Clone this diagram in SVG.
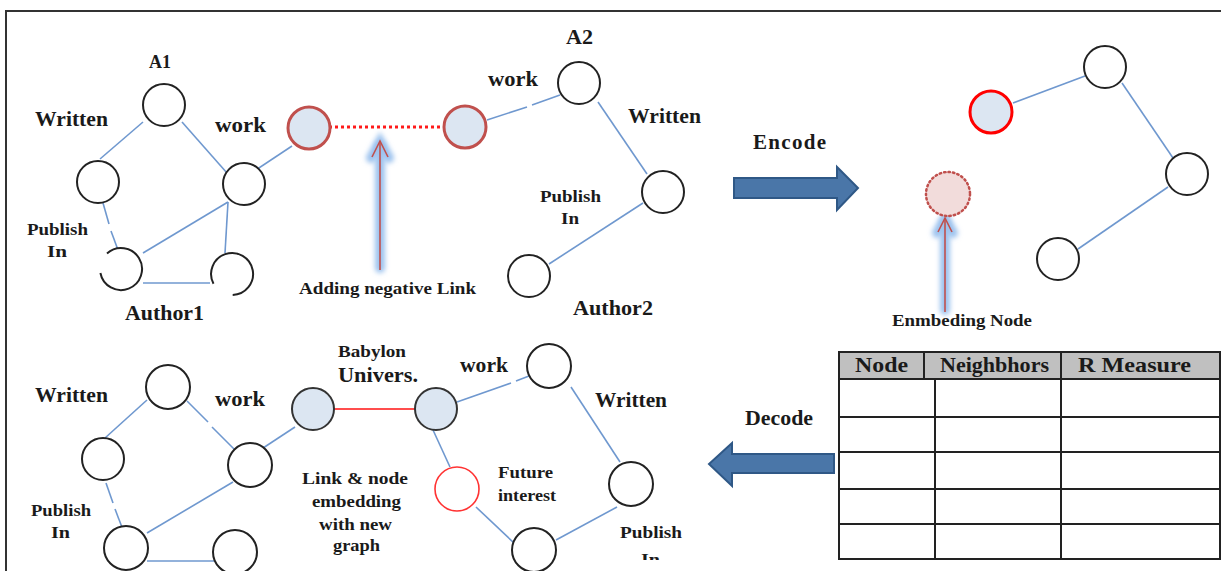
<svg xmlns="http://www.w3.org/2000/svg" width="1221" height="571" viewBox="0 0 1221 571">
  <style>
    .n { fill: #ffffff; stroke: #222222; stroke-width: 2; }
    .hl { fill: #dce6f2; stroke: #333333; stroke-width: 2; }
    .neg { fill: #dce6f2; stroke: #c0504d; stroke-width: 3; }
    .e { stroke: #6f98cf; stroke-width: 1.6; fill: none; }
    .t { font-family: "Liberation Serif", "Times New Roman", serif; font-weight: bold; fill: #1a1a1a; }
    .big { font-size: 21px; }
    .sm { font-size: 17px; }
    .cell { fill: none; stroke: #222222; stroke-width: 2; }
    .bigarrow { fill: #4a76a8; stroke: #2f5886; stroke-width: 2; }
    .glow { stroke: #9cc2ee; stroke-width: 10; fill: none; stroke-linecap: round; filter: url(#blur); }
    .pt { stroke: #c0504d; stroke-width: 1.6; fill: none; }
  </style>
  <defs>
    <filter id="blur" filterUnits="userSpaceOnUse" x="0" y="0" width="1221" height="571">
      <feGaussianBlur stdDeviation="2.5"/>
    </filter>
    <clipPath id="cut"><rect x="0" y="0" width="1221" height="560"/></clipPath>
  </defs>

  <rect x="0" y="0" width="1221" height="571" fill="#ffffff"/>
  <!-- frame -->
  <path d="M6,571 V11 H1221" fill="none" stroke="#333333" stroke-width="2"/>

  <!-- connectors -->
  <g id="connectors">
    <!-- top-left graph -->
    <line class="e" x1="143" y1="122" x2="100" y2="159"/>
    <line class="e" x1="182" y1="122" x2="227" y2="173"/>
    <line class="e" x1="103" y1="203" x2="109" y2="224"/>
    <line class="e" x1="111" y1="231" x2="118" y2="250"/>
    <line class="e" x1="228" y1="202" x2="143" y2="253"/>
    <line class="e" x1="228" y1="202" x2="225" y2="253"/>
    <line class="e" x1="143" y1="283" x2="210" y2="283"/>
    <line class="e" x1="253" y1="172" x2="292" y2="146"/>
    <!-- negative link -->
    <line x1="329" y1="127" x2="446" y2="127" stroke="#ff1a1a" stroke-width="3" stroke-dasharray="3 3"/>
    <!-- top-middle right graph -->
    <line class="e" x1="487" y1="120" x2="527" y2="107"/>
    <line class="e" x1="532" y1="105" x2="560" y2="95"/>
    <line class="e" x1="598" y1="102" x2="647" y2="174"/>
    <line class="e" x1="643" y1="203" x2="549" y2="264"/>
    <!-- encoded graph -->
    <line class="e" x1="1013" y1="103" x2="1085" y2="76"/>
    <line class="e" x1="1122" y1="83" x2="1173" y2="158"/>
    <line class="e" x1="1168" y1="187" x2="1078" y2="249"/>
    <!-- bottom-left graph -->
    <line class="e" x1="147" y1="400" x2="105" y2="438"/>
    <line class="e" x1="187" y1="401" x2="208" y2="422"/>
    <line class="e" x1="212" y1="427" x2="234" y2="449"/>
    <line class="e" x1="106" y1="483" x2="113" y2="503"/>
    <line class="e" x1="115" y1="509" x2="123" y2="530"/>
    <line class="e" x1="233" y1="482" x2="147" y2="533"/>
    <line class="e" x1="147" y1="561" x2="214" y2="561"/>
    <line class="e" x1="257" y1="452" x2="295" y2="427"/>
    <!-- bottom middle / right -->
    <line x1="334" y1="409" x2="415" y2="409" stroke="#ff4d4d" stroke-width="2"/>
    <line class="e" x1="457" y1="402" x2="511" y2="383"/>
    <line class="e" x1="516" y1="381" x2="529" y2="376"/>
    <line class="e" x1="571" y1="387" x2="620" y2="462"/>
    <line class="e" x1="433" y1="430" x2="450" y2="467"/>
    <line class="e" x1="476" y1="507" x2="514" y2="543"/>
    <line class="e" x1="556" y1="540" x2="617" y2="507"/>
  </g>

  <!-- pointer arrows with glow -->
  <g id="pointer-negative">
    <line class="glow" x1="380" y1="146" x2="380" y2="268"/>
    <path class="glow" d="M371,158 L380,142 L389,158"/>
    <line class="pt" x1="380" y1="141" x2="380" y2="270"/>
    <path class="pt" d="M372,157 L380,141 L388,157"/>
  </g>
  <g id="pointer-embedding">
    <line class="glow" x1="945" y1="222" x2="945" y2="310"/>
    <path class="glow" d="M937,233 L945,219 L953,233"/>
    <line class="pt" x1="945" y1="218" x2="945" y2="312"/>
    <path class="pt" d="M938,232 L945,218 L952,232"/>
  </g>

  <!-- top-left graph -->
  <g id="a1"><circle class="n" cx="164" cy="105" r="21"/><text class="t" x="149" y="68" font-size="18" textLength="22" lengthAdjust="spacingAndGlyphs">A1</text></g>
  <g id="tl-written"><circle class="n" cx="98" cy="182" r="21"/><text class="t big" x="35" y="126" textLength="73" lengthAdjust="spacingAndGlyphs">Written</text></g>
  <g id="tl-work"><circle class="n" cx="244" cy="184" r="21"/><text class="t big" x="215" y="132" textLength="51" lengthAdjust="spacingAndGlyphs">work</text></g>
  <g id="tl-publish"><path class="n" fill="none" d="M100.4,273 A21,21 0 1 0 107,253.4"/>
    <text class="t sm" x="27" y="235" textLength="61" lengthAdjust="spacingAndGlyphs">Publish</text><text class="t sm" x="47" y="257" textLength="20" lengthAdjust="spacingAndGlyphs">In</text></g>
  <g id="tl-author1"><path class="n" fill="none" d="M232.7,295 A21,21 0 1 0 213.5,283.8"/>
    <text class="t big" x="125" y="320" textLength="79" lengthAdjust="spacingAndGlyphs">Author1</text></g>

  <!-- negative-link nodes -->
  <g id="neg-left"><circle class="neg" cx="309" cy="128" r="21"/></g>
  <g id="neg-right"><circle class="neg" cx="465" cy="127" r="21"/></g>
  <text class="t sm" x="299" y="294" textLength="177" lengthAdjust="spacingAndGlyphs">Adding negative Link</text>

  <!-- top-middle right graph -->
  <g id="a2"><circle class="n" cx="579" cy="83" r="21"/><text class="t big" x="566" y="44" textLength="27" lengthAdjust="spacingAndGlyphs">A2</text>
    <text class="t big" x="488" y="86" textLength="50" lengthAdjust="spacingAndGlyphs">work</text></g>
  <g id="tr-written"><circle class="n" cx="663" cy="192" r="21"/><text class="t big" x="628" y="123" textLength="73" lengthAdjust="spacingAndGlyphs">Written</text>
    <text class="t sm" x="540" y="202" textLength="61" lengthAdjust="spacingAndGlyphs">Publish</text><text class="t sm" x="561" y="224" textLength="18" lengthAdjust="spacingAndGlyphs">In</text></g>
  <g id="author2"><circle class="n" cx="529" cy="276" r="21"/><text class="t big" x="573" y="315" textLength="80" lengthAdjust="spacingAndGlyphs">Author2</text></g>

  <!-- Encode arrow -->
  <g id="encode">
    <path class="bigarrow" d="M734,178 H837 V167 L858,188 L837,210 V198 H734 Z"/>
    <text class="t" x="753" y="149" font-size="21" textLength="73">Encode</text>
  </g>

  <!-- encoded graph -->
  <g id="enc-red"><circle cx="991" cy="112" r="21" fill="#dce6f2" stroke="#ff0000" stroke-width="3"/></g>
  <g id="enc-top"><circle class="n" cx="1105" cy="67" r="21"/></g>
  <g id="enc-right"><circle class="n" cx="1187" cy="174" r="21"/></g>
  <g id="enc-bottom"><circle class="n" cx="1058" cy="259" r="21"/></g>
  <g id="embed-node">
    <circle cx="948" cy="194" r="22" fill="#f2dcdb" stroke="#c0504d" stroke-width="2.5" stroke-dasharray="1.5 3" stroke-linecap="round"/>
    <text class="t sm" x="892" y="326" textLength="140" lengthAdjust="spacingAndGlyphs">Enmbeding Node</text>
  </g>

  <!-- table -->
  <g id="table">
    <rect x="839" y="352" width="381" height="27" fill="#c0c0c0"/>
    <rect class="cell" x="839" y="352" width="381" height="207"/>
    <line class="cell" x1="839" y1="379" x2="1220" y2="379"/>
    <line class="cell" x1="839" y1="417" x2="1220" y2="417"/>
    <line class="cell" x1="839" y1="452" x2="1220" y2="452"/>
    <line class="cell" x1="839" y1="489" x2="1220" y2="489"/>
    <line class="cell" x1="839" y1="524" x2="1220" y2="524"/>
    <line class="cell" x1="924" y1="352" x2="924" y2="379"/>
    <line class="cell" x1="935" y1="379" x2="935" y2="559"/>
    <line class="cell" x1="1061" y1="352" x2="1061" y2="559"/>
    <text class="t big" x="855" y="372" textLength="53" lengthAdjust="spacingAndGlyphs">Node</text>
    <text class="t big" x="940" y="372" textLength="109" lengthAdjust="spacingAndGlyphs">Neighbhors</text>
    <text class="t big" x="1078" y="372" textLength="113" lengthAdjust="spacingAndGlyphs">R Measure</text>
  </g>

  <!-- Decode arrow -->
  <g id="decode">
    <path class="bigarrow" d="M834,454 H732 V443 L709,464 L732,486 V473 H834 Z"/>
    <text class="t big" x="745" y="425" textLength="68" lengthAdjust="spacingAndGlyphs">Decode</text>
  </g>

  <!-- bottom-left graph -->
  <g id="bl-top"><circle class="n" cx="168" cy="387" r="22"/></g>
  <g id="bl-written"><circle class="n" cx="103" cy="459" r="21"/><text class="t big" x="35" y="402" textLength="73" lengthAdjust="spacingAndGlyphs">Written</text></g>
  <g id="bl-work"><circle class="n" cx="250" cy="465" r="22"/><text class="t big" x="215" y="406" textLength="50" lengthAdjust="spacingAndGlyphs">work</text></g>
  <g id="bl-publish"><circle class="n" cx="126" cy="548" r="22"/><text class="t sm" x="31" y="516" textLength="60" lengthAdjust="spacingAndGlyphs">Publish</text><text class="t sm" x="51" y="538" textLength="19" lengthAdjust="spacingAndGlyphs">In</text></g>
  <g id="bl-author"><circle class="n" cx="235" cy="552" r="22"/></g>

  <!-- bottom middle -->
  <g id="bm-left"><circle class="hl" cx="313" cy="409" r="21"/></g>
  <g id="babylon"><circle class="hl" cx="436" cy="409" r="21"/>
    <text class="t" x="338" y="357" font-size="17" textLength="68" lengthAdjust="spacingAndGlyphs">Babylon</text>
    <text class="t" x="338" y="382" font-size="21" textLength="80" lengthAdjust="spacingAndGlyphs">Univers.</text></g>
  <text class="t sm" x="302" y="484" textLength="106" lengthAdjust="spacingAndGlyphs">Link &amp; node</text>
  <text class="t sm" x="312" y="507" textLength="89" lengthAdjust="spacingAndGlyphs">embedding</text>
  <text class="t sm" x="319" y="530" textLength="73" lengthAdjust="spacingAndGlyphs">with new</text>
  <text class="t sm" x="333" y="551" textLength="47" lengthAdjust="spacingAndGlyphs">graph</text>
  <g id="future"><circle cx="457" cy="489" r="22" fill="#ffffff" stroke="#ff3333" stroke-width="1.6"/>
    <text class="t sm" x="498" y="478" textLength="55" lengthAdjust="spacingAndGlyphs">Future</text>
    <text class="t sm" x="498" y="501" textLength="58" lengthAdjust="spacingAndGlyphs">interest</text></g>
  <g id="br-work"><circle class="n" cx="549" cy="366" r="22"/><text class="t big" x="460" y="372" textLength="48" lengthAdjust="spacingAndGlyphs">work</text></g>
  <g id="br-written"><circle class="n" cx="631" cy="484" r="22"/><text class="t big" x="595" y="407" textLength="72" lengthAdjust="spacingAndGlyphs">Written</text></g>
  <g id="br-publish"><circle class="n" cx="534" cy="550" r="22"/>
    <text class="t sm" x="620" y="538" textLength="62" lengthAdjust="spacingAndGlyphs">Publish</text>
    <text class="t sm" x="641" y="565" textLength="19" lengthAdjust="spacingAndGlyphs" clip-path="url(#cut)">In</text></g>
</svg>
